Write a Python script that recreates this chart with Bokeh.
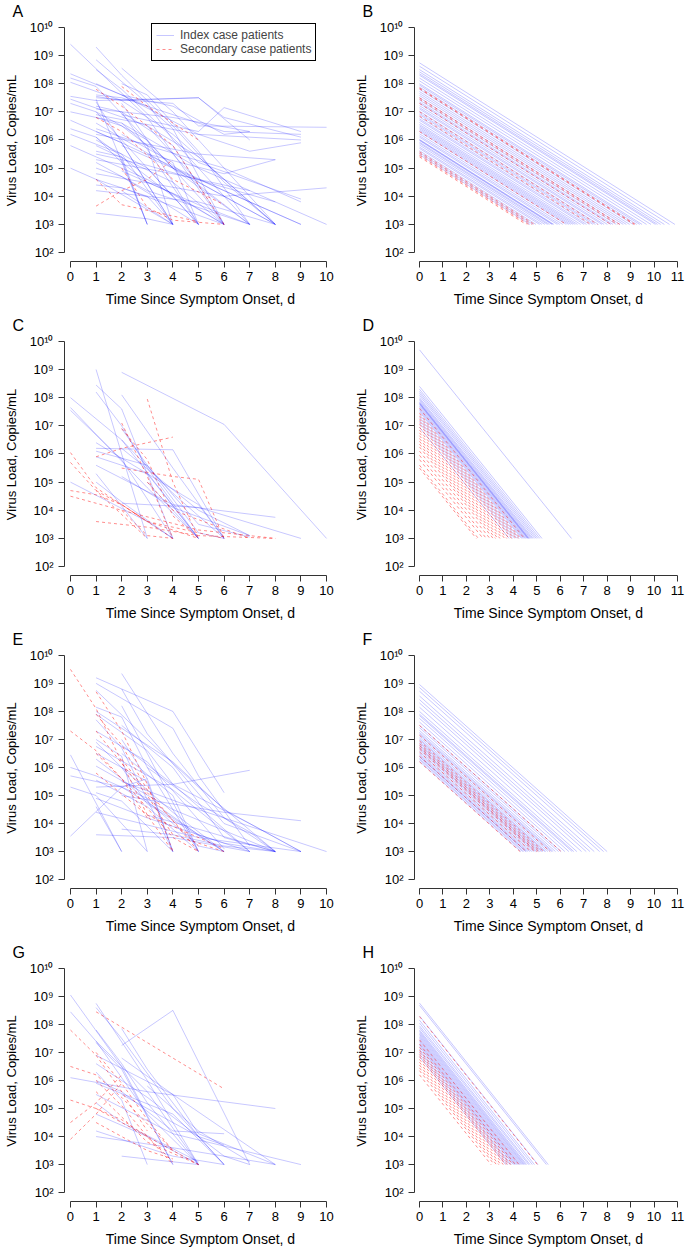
from bokeh.plotting import figure
from bokeh.models import Range1d, FixedTicker, Legend, LegendItem
from bokeh.layouts import column, row
from bokeh.embed import file_html
from bokeh.resources import INLINE

FONT = "Liberation Sans"
BLUE = "#0000FF"
RED = "#FF0000"

# ---------------- text / ticks ----------------
x_ticks_left = [0, 1, 2, 3, 4, 5, 6, 7, 8, 9, 10]
x_ticks_right = [0, 1, 2, 3, 4, 5, 6, 7, 8, 9, 10, 11]
y_ticks = [1e2, 1e3, 1e4, 1e5, 1e6, 1e7, 1e8, 1e9, 1e10]
y_tick_labels = ["10²", "10³", "10⁴", "10⁵", "10⁶", "10⁷", "10⁸", "10⁹", "10¹⁰"]
x_title = "Time Since Symptom Onset, d"
y_title = "Virus Load, Copies/mL"
legend_labels = ["Index case patients", "Secondary case patients"]
panel_letters = ["A", "B", "C", "D", "E", "F", "G", "H"]

# ---------------- data: observed trajectories (day, log10 copies/mL) ----------------
A_index = [
    [(0, 9.4), (3, 6.8), (6, 3.0)],
    [(0, 8.35), (2, 7.6), (5, 6.2), (9, 6.0)],
    [(0, 8.2), (1, 7.9), (4, 5.0), (7, 3.0)],
    [(0, 8.05), (2, 7.4), (4, 6.2), (8, 3.0)],
    [(0, 7.55), (1, 7.4), (5, 7.5), (7, 6.0)],
    [(0, 7.45), (3, 6.5), (5, 4.5), (8, 3.0)],
    [(0, 7.3), (1, 7.0), (3, 5.0), (5, 3.0)],
    [(0, 7.0), (2, 6.6), (5, 5.0), (10, 3.0)],
    [(0, 6.7), (2, 5.9), (6, 4.2), (9, 3.0)],
    [(0, 6.4), (1, 6.1), (4, 4.0)],
    [(0, 6.2), (2, 5.5), (4, 3.0)],
    [(0, 5.8), (1, 5.4), (3, 4.6), (6, 3.0)],
    [(0, 5.0), (1, 4.6), (4, 3.0)],
    [(1, 9.3), (2, 8.3), (4, 6.5), (6, 4.5), (8, 3.0)],
    [(1, 8.85), (3, 7.3), (4, 6.0), (7, 3.0)],
    [(1, 8.5), (2, 7.8), (5, 5.2), (9, 3.9)],
    [(1, 8.0), (3, 7.2), (6, 6.3), (9, 6.2)],
    [(1, 7.55), (2, 7.4), (5, 7.5), (6, 6.8), (9, 6.1)],
    [(1, 7.5), (4, 7.3), (5, 6.5), (10, 6.45)],
    [(1, 7.45), (3, 3.0)],
    [(1, 7.35), (4, 3.0)],
    [(1, 7.2), (2, 7.0), (5, 3.0)],
    [(1, 7.1), (4, 6.8), (7, 6.3)],
    [(1, 7.0), (3, 6.0), (6, 3.0)],
    [(1, 6.8), (2, 6.5), (7, 3.0)],
    [(1, 6.6), (4, 5.0), (8, 3.0)],
    [(1, 6.4), (3, 5.8), (6, 5.0), (9, 3.8)],
    [(1, 6.3), (2, 5.9), (4, 3.0)],
    [(1, 6.2), (5, 5.5), (8, 5.3)],
    [(1, 6.0), (3, 5.0), (5, 3.0)],
    [(1, 5.8), (4, 4.5), (6, 3.0)],
    [(1, 5.6), (2, 5.4), (3, 3.0)],
    [(1, 5.5), (3, 5.1), (8, 3.8)],
    [(1, 5.3), (4, 4.8), (7, 4.2)],
    [(1, 5.2), (3, 4.2), (7, 3.0)],
    [(1, 5.0), (2, 4.7), (5, 3.0)],
    [(1, 4.8), (6, 4.0), (10, 4.3)],
    [(1, 4.6), (3, 4.0), (4, 3.0)],
    [(1, 4.4), (2, 4.3), (6, 3.0)],
    [(1, 4.2), (5, 3.8), (8, 3.0)],
    [(1, 3.4), (3, 3.2), (4, 3.0)],
    [(1, 6.9), (5, 6.2), (7, 5.6), (9, 5.9)],
    [(2, 8.55), (4, 7.0), (6, 5.0), (8, 3.0)],
    [(2, 8.0), (3, 7.6), (5, 5.6), (7, 3.0)],
    [(2, 7.6), (4, 7.2), (6, 6.2), (7, 6.3)],
    [(2, 7.3), (3, 6.0), (5, 3.0)],
    [(2, 7.0), (4, 5.8), (6, 3.0)],
    [(2, 6.6), (3, 5.8), (4, 3.0)],
    [(2, 6.2), (4, 5.2), (5, 3.0)],
    [(2, 5.8), (5, 4.6), (9, 3.0)],
    [(2, 5.3), (3, 3.0)],
    [(2, 4.9), (4, 4.1), (6, 3.0)],
    [(2, 4.2), (4, 3.0)],
    [(2, 6.9), (5, 6.3), (6, 7.15), (9, 6.3)],
    [(3, 6.5), (5, 5.4), (8, 3.0)],
    [(3, 5.5), (6, 4.8), (8, 5.3)],
    [(1, 7.6), (2, 7.5), (3, 7.2), (4, 6.4), (6, 3.0)],
    [(1, 6.1), (2, 5.2), (3, 4.5), (5, 3.7), (7, 3.0)],
]
A_secondary = [
    [(1, 7.8), (2, 7.2), (4, 5.8), (6, 3.0)],
    [(1, 6.8), (2, 6.3), (4, 4.6), (6, 3.7)],
    [(1, 3.65), (2, 4.2), (3, 4.6), (4, 5.3)],
    [(2, 7.9), (3, 7.2), (5, 6.0)],
    [(1, 4.6), (2, 3.7), (4, 3.3), (5, 3.1)],
    [(2, 5.0), (3, 3.6), (4, 3.15), (6, 3.0)],
]

C_index = [
    [(2, 8.9), (6, 7.05), (10, 3.0)],
    [(1, 9.0), (3, 3.0)],
    [(1, 8.45), (2, 7.6), (4, 3.0)],
    [(1, 8.2), (2, 7.0), (3, 5.5), (5, 3.0)],
    [(0, 8.0), (2, 6.5), (5, 3.0)],
    [(0, 7.65), (3, 4.8), (5, 3.0)],
    [(0, 7.55), (2, 5.8), (4, 3.0)],
    [(2, 8.1), (4, 5.5), (6, 3.0)],
    [(1, 6.2), (4, 6.15), (6, 3.0)],
    [(1, 5.9), (3, 5.3), (5, 3.0)],
    [(1, 5.6), (4, 4.2), (8, 3.75)],
    [(0, 5.0), (3, 3.6), (4, 3.0)],
    [(1, 5.3), (3, 3.0)],
    [(2, 5.2), (4, 4.1), (7, 3.1)],
    [(2, 4.25), (5, 4.1), (9, 3.0)],
    [(2, 6.9), (3, 5.6), (5, 3.2), (6, 3.0)],
    [(2, 6.5), (4, 4.6), (6, 3.0)],
    [(2, 6.2), (5, 4.0), (7, 3.1)],
    [(1, 6.4), (5, 4.2), (6, 3.0)],
    [(1, 5.0), (2, 4.3), (4, 3.0)],
    [(3, 5.0), (5, 3.0)],
    [(1, 6.1), (3, 5.6), (5, 3.5), (7, 3.05)],
]
C_secondary = [
    [(3, 7.95), (4, 5.0), (5, 3.0)],
    [(2, 7.1), (3, 5.2), (4, 3.0)],
    [(2, 6.9), (3, 5.8), (4, 3.8), (5, 3.0)],
    [(1, 5.9), (2, 6.2), (4, 6.6)],
    [(0, 6.05), (1, 4.8), (2, 4.2), (4, 3.0)],
    [(0, 5.7), (1, 4.7), (3, 3.0)],
    [(0, 4.5), (2, 4.0), (5, 3.3), (8, 3.0)],
    [(1, 3.6), (3, 3.4), (5, 3.1), (8, 3.0)],
    [(2, 5.5), (4, 5.2), (5, 5.1), (6, 3.0)],
    [(3, 5.0), (4, 4.0), (7, 3.0)],
    [(2, 4.0), (3, 3.1), (4, 3.0)],
    [(1, 4.7), (2, 4.2), (3, 3.6), (6, 3.0)],
    [(0, 4.7), (1, 4.55), (2, 4.2), (3, 3.6), (5, 3.0)],
]

E_index = [
    [(0, 6.45), (2, 3.0)],
    [(0, 6.0), (1, 5.7), (3, 4.9), (5, 3.6), (7, 3.0)],
    [(0, 5.7), (2, 5.3), (4, 4.2), (6, 3.0)],
    [(0, 3.55), (2, 5.3), (3, 5.6)],
    [(1, 9.2), (4, 8.0), (6, 5.1)],
    [(1, 9.0), (4, 7.4), (5, 5.7), (7, 3.2)],
    [(1, 8.75), (3, 7.0), (5, 5.3), (8, 3.0)],
    [(1, 8.15), (2, 7.8), (3, 6.0), (5, 3.0)],
    [(1, 8.0), (4, 6.2), (6, 4.5), (9, 3.0)],
    [(1, 7.7), (2, 6.7), (4, 3.0)],
    [(1, 7.3), (3, 6.2), (6, 3.1)],
    [(1, 7.0), (2, 6.4), (3, 3.0)],
    [(1, 6.75), (4, 5.2), (7, 3.0)],
    [(1, 6.5), (3, 5.5), (4, 3.0)],
    [(1, 6.3), (2, 5.6), (5, 3.2), (6, 3.0)],
    [(1, 6.05), (4, 4.5), (8, 3.0)],
    [(1, 5.3), (4, 5.4), (7, 5.9)],
    [(1, 5.55), (3, 4.6), (5, 3.0)],
    [(1, 5.1), (2, 4.8), (4, 3.0)],
    [(1, 4.9), (3, 4.2), (6, 3.3), (8, 3.0)],
    [(1, 4.6), (2, 3.0)],
    [(1, 4.4), (5, 3.5), (9, 3.0)],
    [(2, 9.35), (4, 6.5), (6, 4.2), (8, 3.0)],
    [(2, 8.8), (3, 7.2), (6, 4.0), (9, 3.0)],
    [(2, 8.2), (3, 6.5), (5, 3.0)],
    [(2, 7.5), (4, 6.0), (6, 3.5), (8, 3.0)],
    [(2, 7.0), (3, 5.6), (4, 3.0)],
    [(2, 6.5), (4, 5.0), (5, 3.0)],
    [(2, 6.0), (3, 4.7), (6, 3.0)],
    [(2, 5.5), (5, 4.5), (10, 3.0)],
    [(2, 5.0), (6, 4.4), (9, 4.1)],
    [(2, 3.8), (4, 3.6), (6, 3.2), (8, 3.0)],
    [(3, 4.3), (5, 3.8), (8, 3.0)],
    [(1, 3.6), (4, 3.5), (7, 3.0)],
    [(3, 6.0), (5, 4.7), (7, 3.7), (8, 3.0)],
    [(1, 7.9), (3, 6.6), (4, 5.4), (7, 3.0)],
    [(1, 6.9), (2, 6.0), (4, 4.4), (6, 3.0)],
    [(0, 5.3), (1, 5.0), (3, 3.0)],
    [(2, 6.8), (4, 5.4), (7, 4.0), (9, 3.0)],
]
E_secondary = [
    [(0, 9.5), (1, 8.1), (2, 6.2), (3, 4.3), (4, 3.0)],
    [(0, 7.3), (1, 6.6), (2, 5.6), (3, 4.2)],
    [(1, 8.7), (2, 7.3), (3, 5.4), (4, 3.0)],
    [(1, 7.9), (2, 6.8), (3, 5.2), (5, 3.0)],
    [(1, 7.3), (3, 5.0), (4, 3.6), (6, 3.0)],
    [(1, 6.5), (2, 5.6), (4, 3.5), (5, 3.0)],
    [(1, 5.8), (3, 4.3), (6, 3.1)],
    [(2, 6.3), (3, 5.1), (4, 4.1), (5, 3.2)],
]

G_index = [
    [(0, 9.05), (2, 6.5), (4, 3.0)],
    [(0, 8.45), (1, 7.4), (3, 4.8), (5, 3.0)],
    [(0, 6.1), (3, 5.6), (8, 5.0)],
    [(1, 8.75), (3, 6.0), (5, 3.0)],
    [(1, 8.6), (2, 7.5), (4, 5.0), (6, 3.0)],
    [(1, 7.4), (3, 5.6), (5, 3.0)],
    [(1, 7.35), (2, 6.4), (4, 3.0)],
    [(1, 6.6), (3, 5.4), (6, 3.3), (7, 3.0)],
    [(1, 6.3), (2, 5.3), (3, 3.0)],
    [(1, 5.9), (4, 4.8), (6, 3.0)],
    [(1, 5.2), (2, 4.5), (5, 3.1)],
    [(1, 4.8), (3, 4.0), (5, 3.0)],
    [(1, 4.2), (2, 3.9), (4, 3.3), (6, 3.0)],
    [(1, 4.0), (4, 3.6), (8, 3.0)],
    [(2, 7.85), (3, 6.4), (5, 4.0), (6, 3.0)],
    [(2, 7.25), (4, 8.5), (7, 3.0)],
    [(2, 6.8), (4, 5.5), (8, 3.0)],
    [(2, 3.3), (3, 3.2), (5, 3.0)],
    [(2, 5.5), (5, 4.0), (6, 3.7)],
    [(3, 5.8), (5, 4.2), (7, 3.1)],
    [(1, 6.9), (4, 5.5), (5, 4.1), (8, 3.0)],
    [(1, 5.5), (4, 4.1), (9, 3.0)],
    [(1, 7.8), (2, 6.6), (3, 5.2), (5, 3.0)],
    [(1, 6.0), (2, 5.6), (4, 4.2), (6, 4.1)],
]
G_secondary = [
    [(1, 8.45), (2, 7.9), (4, 6.8), (6, 5.7)],
    [(0, 7.8), (1, 6.9), (2, 5.6), (3, 4.2)],
    [(0, 6.5), (1, 6.2), (2, 5.4), (4, 3.5)],
    [(0, 5.3), (1, 5.0), (2, 4.6), (3, 4.0), (4, 3.1)],
    [(0, 4.5), (1, 5.2), (2, 6.2)],
    [(0, 3.9), (1, 4.8), (2, 5.9)],
    [(1, 7.0), (2, 5.9), (3, 4.6), (4, 3.5)],
    [(1, 6.0), (2, 5.1), (3, 4.0), (4, 3.0)],
    [(1, 5.0), (3, 4.0), (5, 3.0)],
    [(1, 4.5), (2, 4.0), (3, 3.5), (4, 3.2)],
    [(1, 5.6), (2, 4.7), (3, 3.8), (5, 3.0)],
]

# ---------------- data: modelled declines (log10 start at day 0, day reaching 10^3) ----------------
B_index_start = [8.74, 8.62, 8.5, 8.42, 8.35, 8.3, 8.2, 8.1, 8.0, 7.95, 7.88, 7.8, 7.72, 7.65, 7.58,
                 7.5, 7.42, 7.35, 7.3, 7.22, 7.15, 7.1, 7.02, 6.95, 6.9, 6.82, 6.75, 6.7, 6.62, 6.55,
                 6.5, 6.45, 6.4, 6.35, 6.3, 6.22, 6.15, 6.1, 6.02, 6.0, 5.98, 5.92, 5.88, 5.82, 5.75,
                 5.7, 5.62, 5.55, 5.48]
B_index_end = [10.89, 10.66, 10.44, 10.28, 10.15, 10.06, 9.87, 9.68, 9.49, 9.39, 9.26, 9.11, 8.96, 8.82, 8.69,
               8.54, 8.39, 8.25, 8.16, 8.01, 7.87, 7.78, 7.63, 7.50, 7.40, 7.25, 7.12, 7.02, 6.87, 6.74,
               6.64, 6.55, 6.45, 6.36, 6.26, 6.11, 5.98, 5.88, 5.73, 5.69, 5.65, 5.54, 5.46, 5.35, 5.22,
               5.12, 4.97, 4.84, 4.71]
B_sec_start = [7.85, 7.82, 7.5, 7.45, 7.3, 7.0, 6.85, 6.3, 5.58, 5.52, 5.45, 5.4]
B_sec_end = [9.20, 9.15, 8.54, 8.44, 8.16, 7.59, 7.31, 6.26, 4.90, 4.78, 4.65, 4.55]

D_index_start = [9.7, 8.4, 8.3, 8.22, 8.15, 8.08, 8.0, 7.95, 7.9, 7.85, 7.82, 7.8, 7.78, 7.75, 7.7,
                 7.65, 7.6, 7.55, 7.5, 7.4, 7.3, 7.2, 7.1, 6.95]
D_index_end = [6.48, 5.22, 5.13, 5.05, 4.98, 4.91, 4.84, 4.79, 4.74, 4.69, 4.66, 4.64, 4.62, 4.59, 4.54,
               4.50, 4.45, 4.40, 4.35, 4.25, 4.16, 4.06, 3.96, 3.82]
D_sec_start = [7.62, 7.45, 7.35, 7.25, 7.15, 7.05, 6.95, 6.85, 6.75, 6.65, 6.55, 6.45, 6.35, 6.25,
               6.1, 5.95, 5.8, 5.6, 5.5]
D_sec_end = [4.47, 4.30, 4.21, 4.11, 4.01, 3.92, 3.82, 3.72, 3.63, 3.53, 3.43, 3.34, 3.24, 3.14,
             3.00, 2.85, 2.71, 2.51, 2.42]

F_index_start = [8.96, 8.85, 8.72, 8.55, 8.42, 8.3, 8.15, 8.0, 7.9, 7.85, 7.75, 7.62, 7.5, 7.42, 7.32,
                 7.25, 7.2, 7.15, 7.08, 7.02, 6.98, 6.92, 6.88, 6.82, 6.78, 6.72, 6.68, 6.62, 6.56, 6.5,
                 6.45, 6.4, 6.38, 6.32, 6.28, 6.22]
F_index_end = [8.00, 7.85, 7.68, 7.45, 7.27, 7.11, 6.91, 6.71, 6.58, 6.51, 6.37, 6.20, 6.04, 5.93, 5.80,
               5.70, 5.64, 5.57, 5.48, 5.39, 5.34, 5.26, 5.21, 5.13, 5.07, 4.99, 4.94, 4.86, 4.78, 4.70,
               4.63, 4.56, 4.54, 4.46, 4.40, 4.32]
F_sec_start = [7.5, 7.15, 6.95, 6.85, 6.78, 6.72, 6.66, 6.55, 6.4, 6.2]
F_sec_end = [6.04, 5.57, 5.30, 5.17, 5.07, 4.99, 4.91, 4.76, 4.56, 4.29]

H_index_start = [8.76, 8.68, 8.3, 8.15, 8.05, 7.95, 7.88, 7.8, 7.75, 7.7, 7.65, 7.6, 7.55, 7.5, 7.45,
                 7.4, 7.35, 7.3, 7.25, 7.2, 7.12, 7.05, 6.95, 6.85]
H_index_end = [5.49, 5.41, 5.05, 4.90, 4.81, 4.71, 4.65, 4.57, 4.52, 4.47, 4.43, 4.38, 4.33, 4.28, 4.24,
               4.19, 4.14, 4.09, 4.05, 4.00, 3.92, 3.86, 3.76, 3.67]
H_sec_start = [8.28, 7.45, 7.3, 7.18, 7.08, 7.0, 6.92, 6.85, 6.75, 6.65, 6.55, 6.45, 6.35, 6.2]
H_sec_end = [5.03, 4.24, 4.09, 3.98, 3.88, 3.81, 3.73, 3.67, 3.57, 3.47, 3.38, 3.28, 3.19, 3.05]

detection_limit_log10 = 3.0

# ---------------- layout ----------------
COL_W = [343, 343]
ROW_H = [314, 314, 313, 308]
ROW_BOTTOM = [53, 53, 53, 48]
BORDER_L = [62, 71]
BORDER_R = [7, 4]
X_RANGE = [(-0.233, 10.388), (-0.213, 11.213)]
Y_RANGE = (10 ** 1.683, 10 ** 10.28)
AXIS_COLOR = "#333333"


def polylines(lines):
    xs = [[pt[0] for pt in ln] for ln in lines]
    ys = [[10 ** pt[1] for pt in ln] for ln in lines]
    return xs, ys


def declines(starts, ends):
    xs = [[0, e] for e in ends]
    ys = [[10 ** s, 10 ** detection_limit_log10] for s in starts]
    return xs, ys


def make_panel(letter, rw, col, idx, sec, legend=False):
    xt = x_ticks_left if col == 0 else x_ticks_right
    p = figure(width=COL_W[col], height=ROW_H[rw],
               x_range=Range1d(*X_RANGE[col]), y_range=Range1d(*Y_RANGE),
               y_axis_type="log", output_backend="svg", toolbar_location=None,
               min_border_left=BORDER_L[col], min_border_right=BORDER_R[col],
               min_border_top=0, min_border_bottom=ROW_BOTTOM[rw])
    p.outline_line_color = None
    p.grid.visible = False
    p.background_fill_color = "white"
    p.border_fill_color = "white"

    # panel letter as title, shifted left of the frame
    p.title.text = letter
    p.title.align = "left"
    p.title.offset = -52
    p.title.standoff = 0
    p.title.text_font = FONT
    p.title.text_font_size = "16px"
    p.title.text_font_style = "normal"
    p.title.text_color = "black"

    rb = p.multi_line(xs=idx[0], ys=idx[1], line_color=BLUE, line_alpha=0.22, line_width=1)
    rr = p.multi_line(xs=sec[0], ys=sec[1], line_color=RED, line_alpha=0.45, line_width=1,
                      line_dash="3 3")

    xa = p.xaxis[0]
    xa.ticker = FixedTicker(ticks=xt)
    xa.bounds = (xt[0], xt[-1])
    ya = p.yaxis[0]
    ya.ticker = FixedTicker(ticks=y_ticks)
    ya.bounds = (y_ticks[0], y_ticks[-1])
    ya.major_label_overrides = {t: l for t, l in zip(y_ticks, y_tick_labels)}
    for ax in (xa, ya):
        ax.major_tick_in = 0
        ax.major_tick_out = 6
        ax.minor_tick_line_color = None
        ax.axis_line_color = AXIS_COLOR
        ax.major_tick_line_color = AXIS_COLOR
        ax.major_label_text_font = FONT
        ax.major_label_text_font_size = "13px"
        ax.major_label_text_color = "black"
        ax.axis_label_text_font = FONT
        ax.axis_label_text_font_style = "normal"
        ax.axis_label_text_color = "black"
    xa.major_label_standoff = 4
    xa.axis_label = x_title
    xa.axis_label_text_font_size = "14px"
    xa.axis_label_standoff = 7
    ya.major_label_standoff = 5
    ya.axis_label = y_title
    ya.axis_label_text_font_size = "13px"
    ya.axis_label_standoff = 8

    if legend:
        lg = Legend(items=[LegendItem(label=legend_labels[0], renderers=[rb]),
                           LegendItem(label=legend_labels[1], renderers=[rr])],
                    location=(87, 200))
        lg.border_line_color = "black"
        lg.border_line_width = 1
        lg.border_line_alpha = 1
        lg.background_fill_alpha = 1
        lg.padding = 4
        lg.spacing = 0
        lg.margin = 0
        lg.label_height = 14
        lg.glyph_height = 14
        lg.glyph_width = 18
        lg.label_standoff = 6
        lg.label_text_font = FONT
        lg.label_text_font_size = "12px"
        p.add_layout(lg)
    return p


pA = make_panel(panel_letters[0], 0, 0, polylines(A_index), polylines(A_secondary), legend=True)
pB = make_panel(panel_letters[1], 0, 1, declines(B_index_start, B_index_end), declines(B_sec_start, B_sec_end))
pC = make_panel(panel_letters[2], 1, 0, polylines(C_index), polylines(C_secondary))
pD = make_panel(panel_letters[3], 1, 1, declines(D_index_start, D_index_end), declines(D_sec_start, D_sec_end))
pE = make_panel(panel_letters[4], 2, 0, polylines(E_index), polylines(E_secondary))
pF = make_panel(panel_letters[5], 2, 1, declines(F_index_start, F_index_end), declines(F_sec_start, F_sec_end))
pG = make_panel(panel_letters[6], 3, 0, polylines(G_index), polylines(G_secondary))
pH = make_panel(panel_letters[7], 3, 1, declines(H_index_start, H_index_end), declines(H_sec_start, H_sec_end))

layout = column(row(pA, pB), row(pC, pD), row(pE, pF), row(pG, pH))
open("out.html", "w").write(file_html(layout, INLINE))
